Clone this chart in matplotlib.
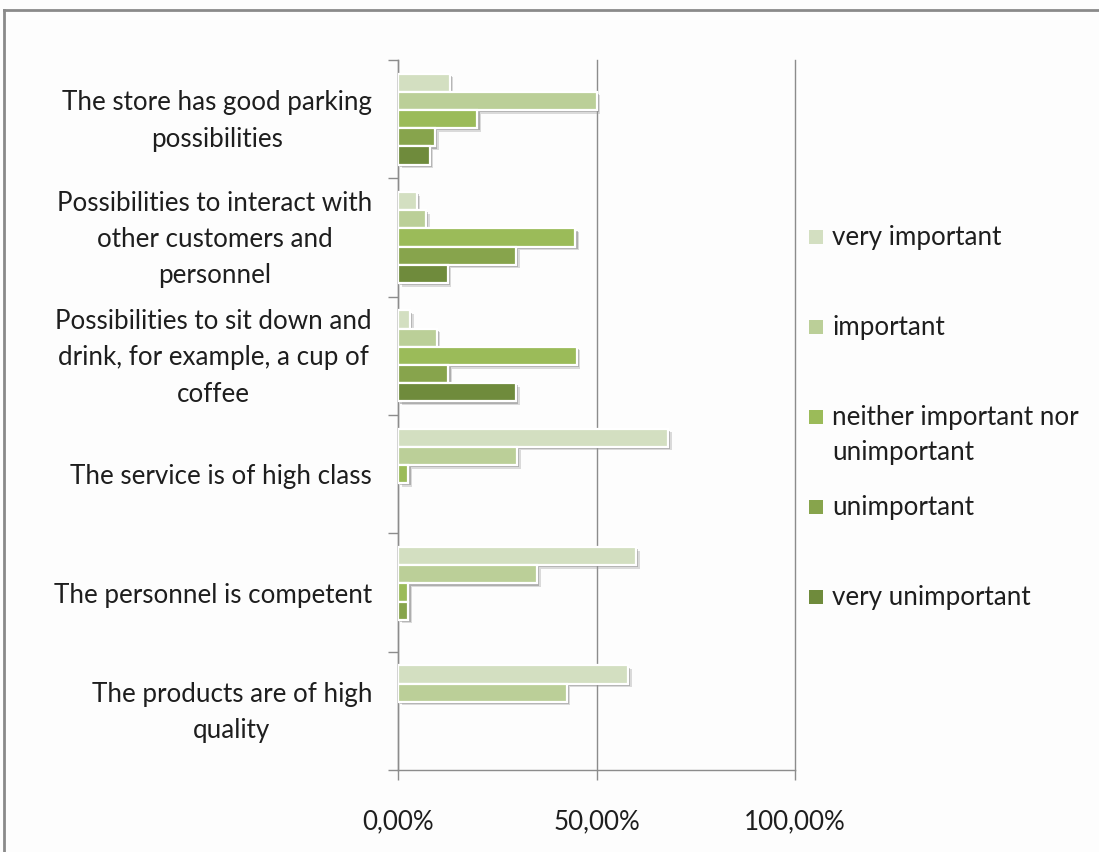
import matplotlib
matplotlib.use("Agg")
import matplotlib.pyplot as plt
import matplotlib.patheffects as pe
import matplotlib.transforms as mtransforms
from matplotlib.patches import Rectangle
from matplotlib.lines import Line2D
from matplotlib.ticker import FixedLocator, FuncFormatter
import numpy as np

plt.rcParams['font.family'] = ['Lato', 'DejaVu Sans']

# Survey categories, listed from the bottom of the chart to the top
categories = [
    "The products are of high\nquality",
    "The personnel is competent",
    "The service is of high class",
    "Possibilities to sit down and\ndrink, for example, a cup of\ncoffee",
    "Possibilities to interact with\nother customers and\npersonnel",
    "The store has good parking\npossibilities",
]

series_names = [
    "very important",
    "important",
    "neither important nor\nunimportant",
    "unimportant",
    "very unimportant",
]

# Share of answers per category (same order as categories)
very_important = [0.58, 0.60, 0.68, 0.03, 0.047, 0.13]
important = [0.425, 0.35, 0.30, 0.097, 0.071, 0.50]
neither = [0.0, 0.026, 0.026, 0.45, 0.447, 0.20]
unimportant = [0.0, 0.026, 0.0, 0.127, 0.297, 0.093]
very_unimportant = [0.0, 0.0, 0.0, 0.297, 0.125, 0.08]

values = [very_important, important, neither, unimportant, very_unimportant]
colors = ["#D3DFC1", "#BBCF98", "#9BBB59", "#87A44C", "#6F8B3C"]

x_ticks = [0.0, 0.5, 1.0]

W, H = 1099, 852
FS = 18.7
LINE_PX = 36
fig = plt.figure(figsize=(W / 100, H / 100), dpi=100)
fig.patch.set_facecolor("#FDFDFD")

ax = fig.add_axes([398 / W, 82 / H, 397 / W, 710 / H])
ax.set_facecolor("none")

n_series = len(values)
bar_h = 1.0 / (n_series + 1.5)
y = np.arange(len(categories))
text_color = "#1E1E1E"
axis_color = "#8C8C8C"

shadow = [pe.SimplePatchShadow(offset=(2.6, -2.6), shadow_rgbFace="#9a9a9a", alpha=0.35),
          pe.SimplePatchShadow(offset=(1.6, -1.6), shadow_rgbFace="#7a7a7a", alpha=0.45),
          pe.Normal()]

for j, (vals, col) in enumerate(zip(values, colors)):
    offset = (2 - j) * bar_h
    for yi, v in zip(y, vals):
        if v <= 0:
            continue
        b = ax.barh(yi + offset, v, height=bar_h, color=col,
                    edgecolor="white", linewidth=1.6, zorder=3)
        for p in b:
            p.set_path_effects(shadow)

ax.set_xlim(0, 1)
ax.set_ylim(-0.5, len(categories) - 0.5)

# x axis
ax.xaxis.set_major_locator(FixedLocator(x_ticks))
ax.xaxis.set_major_formatter(FuncFormatter(lambda v, _: f"{v * 100:.2f}%".replace(".", ",")))
ax.tick_params(axis="x", which="major", direction="out", length=7.5, width=1.0,
               color=axis_color, labelsize=FS, labelcolor=text_color, pad=21)
ax.grid(axis="x", color=axis_color, linewidth=1.0, zorder=0)
for gl in ax.get_xgridlines():
    gl.set_clip_on(False)

# y axis: labels at category centres, tick marks on category boundaries
ax.yaxis.set_major_locator(FixedLocator(y))
ax.set_yticklabels(categories, multialignment="center")
ax.yaxis.set_minor_locator(FixedLocator(np.arange(-0.5, len(categories), 1.0)))
ax.tick_params(axis="y", which="major", length=0, labelsize=FS,
               labelcolor=text_color, pad=18.7)
ax.tick_params(axis="y", which="minor", direction="out", length=7.5, width=1.0,
               color=axis_color)
lift = mtransforms.ScaledTranslation(0, 4.5 / 72, fig.dpi_scale_trans)
for t in ax.get_yticklabels():
    t.set_linespacing(1.57)
    if "\n" in t.get_text():
        t.set_transform(t.get_transform() + lift)

for s in ["top", "right"]:
    ax.spines[s].set_visible(False)
for s in ["left", "bottom"]:
    ax.spines[s].set_color(axis_color)
    ax.spines[s].set_linewidth(1.0)

# legend drawn as stacked entries on the right
leg_y = [237, 327, 417, 507, 597]
for name, col, ly in zip(series_names, colors, leg_y):
    fig.add_artist(Rectangle((809 / W, 1 - (ly + 7) / H), 14 / W, 14 / H,
                             transform=fig.transFigure, facecolor=col,
                             edgecolor="none"))
    for k, line in enumerate(name.split("\n")):
        fig.text(832 / W, 1 - (ly + k * LINE_PX) / H, line, fontsize=FS,
                 color=text_color, ha="left", va="center")

# chart frame
fig.add_artist(Line2D([4 / W, 4 / W], [0, 1 - 10 / H], transform=fig.transFigure,
                      color="#8A8A8A", linewidth=2.0))
fig.add_artist(Line2D([4 / W, 1], [1 - 10 / H, 1 - 10 / H], transform=fig.transFigure,
                      color="#8A8A8A", linewidth=2.0))

fig.savefig("out.png", dpi=100, facecolor=fig.get_facecolor())
